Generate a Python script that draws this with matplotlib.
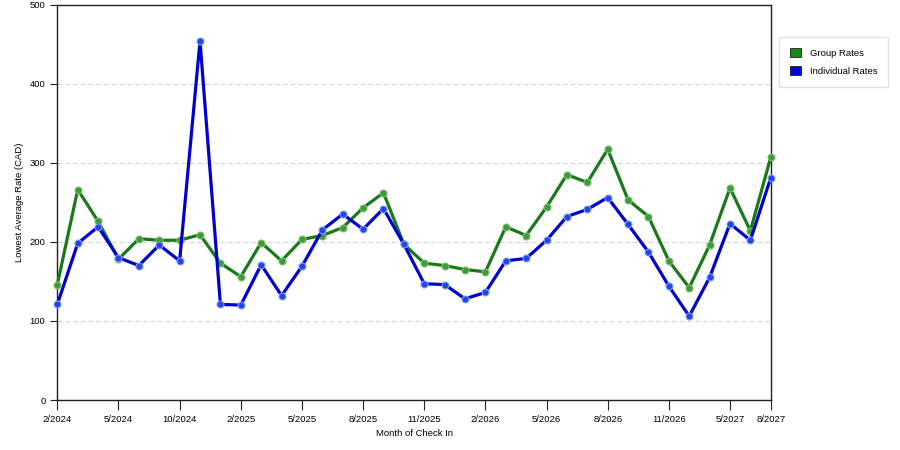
import matplotlib
matplotlib.use("Agg")
import matplotlib.pyplot as plt
from matplotlib.patches import Patch

# Months of check-in (some months have no data)
months = ["2/2024", "3/2024", "4/2024", "5/2024", "6/2024", "8/2024", "10/2024",
          "11/2024", "12/2024", "2/2025", "3/2025", "4/2025", "5/2025", "6/2025",
          "7/2025", "8/2025", "9/2025", "10/2025", "11/2025", "12/2025", "1/2026",
          "2/2026", "3/2026", "4/2026", "5/2026", "6/2026", "7/2026", "8/2026",
          "9/2026", "10/2026", "11/2026", "12/2026", "2/2027", "5/2027", "7/2027",
          "8/2027"]

group_rates = [146, 266, 226, 178, 204, 202, 202, 209, 173, 156, 199, 176,
               203, 208, 218, 243, 262, 197, 173, 170, 165, 162, 219, 208,
               244, 285, 275, 317, 253, 232, 176, 142, 196, 268, 214, 307]

individual_rates = [121, 198, 219, 180, 170, 196, 176, 454, 121, 120, 171, 132,
                    169, 215, 235, 216, 242, 197, 147, 146, 128, 136, 176, 179,
                    202, 232, 241, 256, 222, 187, 144, 106, 155, 223, 202, 281]

tick_idx = [0, 3, 6, 9, 12, 15, 18, 21, 24, 27, 30, 33, 35]

plt.rcParams['font.family'] = ['Liberation Sans', 'DejaVu Sans']

fig = plt.figure(figsize=(9, 4.5), dpi=100)
ax = fig.add_axes([0.0637, 0.111, 0.7927, 0.879])

x = list(range(len(months)))
ax.plot(x, group_rates, color='#1a7a1a', lw=2.3, marker='o', ms=5,
        mfc='#3d9a3d', mec='#7cbf6a', mew=0.8, zorder=3, clip_on=False)
ax.plot(x, individual_rates, color='#0000d0', lw=2.3, marker='o', ms=5,
        mfc='#2244e8', mec='#7fa0f0', mew=0.8, zorder=4, clip_on=False)

ax.set_xlim(0, len(months) - 1)
ax.set_ylim(0, 500)
ax.set_yticks([0, 100, 200, 300, 400, 500])
ax.set_xticks(tick_idx)
ax.set_xticklabels([months[i] for i in tick_idx])
ax.tick_params(axis='both', labelsize=6.8, direction='out', color='#222222')
ax.tick_params(axis='x', length=7)
ax.tick_params(axis='y', length=5)
ax.yaxis.grid(True, linestyle=(0, (4, 3)), color='#d4d4d4', lw=0.8)
ax.set_axisbelow(True)
for s in ax.spines.values():
    s.set_color('#222222')
    s.set_linewidth(1)

ax.set_xlabel('Month of Check In', fontsize=6.8)
ax.set_ylabel('Lowest Average Rate (CAD)', fontsize=6.8)

handles = [Patch(facecolor='#138a13', edgecolor='#222222', lw=0.6),
           Patch(facecolor='#0000ee', edgecolor='#222222', lw=0.6)]
fig.legend(handles, ['Group Rates', 'Individual Rates'], loc='upper left',
           bbox_to_anchor=(0.8656, 0.918), borderaxespad=0, fontsize=6.8,
           frameon=True, fancybox=False, edgecolor='#dddddd', handlelength=1.2,
           handleheight=1.2, borderpad=1.15, labelspacing=0.85,
           handletextpad=0.9)
fig.legend  # legend placed outside the plot area, right side

fig.savefig('out.png', dpi=100)
